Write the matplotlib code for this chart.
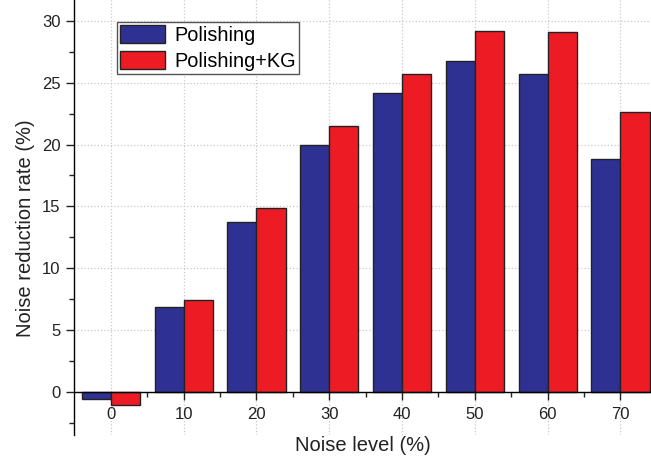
import numpy as np
import matplotlib
matplotlib.use('Agg')
import matplotlib.pyplot as plt
from matplotlib.ticker import MultipleLocator

plt.rcParams['font.family'] = ['Liberation Sans', 'DejaVu Sans']

noise_levels = ['0', '10', '20', '30', '40', '50', '60', '70']
polishing = [-0.6, 6.85, 13.75, 20.0, 24.15, 26.8, 25.75, 18.8]
polishing_kg = [-1.05, 7.4, 14.85, 21.5, 25.7, 29.2, 29.15, 22.6]

blue = '#2e3192'
red = '#ed1c24'
bar_w = 0.4

fig = plt.figure(figsize=(6.51, 4.62), dpi=100)
ax = fig.add_axes([0.1144, 0.0584, 0.8856, 0.9416])

x = np.arange(len(noise_levels))
ax.bar(x - bar_w / 2, polishing, width=bar_w, color=blue, edgecolor='#222222',
       linewidth=1.0, label='Polishing', zorder=3)
ax.bar(x + bar_w / 2, polishing_kg, width=bar_w, color=red, edgecolor='#222222',
       linewidth=1.0, label='Polishing+KG', zorder=3)

ax.set_xlim(-0.5, 7.42)
ax.set_ylim(-3.5, 31.7)

# axes look: left spine + x axis sitting on y=0
for side in ['top', 'right']:
    ax.spines[side].set_visible(False)
ax.spines['bottom'].set_position(('data', 0))
ax.spines['left'].set_linewidth(1.0)
ax.spines['bottom'].set_linewidth(1.0)
ax.spines['bottom'].set_zorder(4)

ax.set_xticks(x)
ax.set_xticklabels(noise_levels)
ax.set_xticks(x[:-1] + 0.5, minor=True)
ax.yaxis.set_major_locator(MultipleLocator(5))
ax.yaxis.set_minor_locator(MultipleLocator(2.5))

ax.tick_params(axis='both', which='major', direction='out', length=6, width=1.0,
               labelsize=12, colors='#222222')
ax.tick_params(axis='both', which='minor', direction='out', length=3.5, width=1.0,
               colors='#222222')
ax.tick_params(axis='x', which='major', pad=5)
ax.tick_params(axis='y', which='major', pad=4)

ax.grid(True, which='major', linestyle=':', color='#c8c8c8', linewidth=0.9, zorder=0)
ax.set_axisbelow(True)

ax.set_xlabel('Noise level (%)', fontsize=14.5, color='#222222')
ax.xaxis.set_label_coords(0.5, -0.003)
ax.set_ylabel('Noise reduction rate (%)', fontsize=14.5, color='#222222')
ax.yaxis.set_label_coords(-0.0686, 0.4747)

leg = ax.legend(loc='upper left', bbox_to_anchor=(0.0732, 0.9487), fontsize=14.3,
                fancybox=False, frameon=True, handlelength=2.3, handleheight=1.0,
                labelspacing=0.32, borderpad=0.15, handletextpad=0.45, borderaxespad=0)
leg.get_frame().set_edgecolor('#555555')
leg.get_frame().set_linewidth(1.0)
leg.get_frame().set_alpha(1)

fig.savefig('out.png', dpi=100)
